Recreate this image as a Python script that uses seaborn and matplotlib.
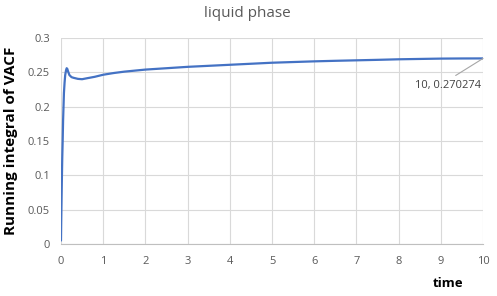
import matplotlib
matplotlib.use("Agg")
import matplotlib.pyplot as plt
import seaborn as sns
import pandas as pd

time = [0.0, 0.005, 0.01, 0.02, 0.03, 0.04, 0.05, 0.06, 0.07, 0.085, 0.1, 0.12, 0.135,
        0.15, 0.17, 0.2, 0.25, 0.3, 0.4, 0.5, 0.6, 0.8, 1.0, 1.25, 1.5, 1.75, 2.0,
        2.5, 3.0, 3.5, 4.0, 4.5, 5.0, 5.5, 6.0, 6.5, 7.0, 7.5, 8.0, 8.5, 9.0, 9.5, 10.0]
vacf_int = [0.005, 0.03, 0.05, 0.09, 0.125, 0.15, 0.18, 0.2, 0.22, 0.235, 0.246, 0.253, 0.256,
            0.255, 0.251, 0.246, 0.243, 0.242, 0.2405, 0.240, 0.2412, 0.2435, 0.2465, 0.249, 0.251, 0.2525, 0.254,
            0.256, 0.258, 0.2595, 0.2610, 0.2625, 0.2640, 0.2650, 0.2660, 0.2668, 0.2675, 0.2682, 0.2690, 0.2695, 0.2700, 0.2702, 0.270274]

df = pd.DataFrame({"time": time, "vacf": vacf_int})

sns.set_style("white")
plt.rcParams['font.family'] = ['Open Sans', 'DejaVu Sans']

fig = plt.figure(figsize=(4.97, 2.96), dpi=100)
ax = fig.add_axes([0.1227, 0.1757, 0.8493, 0.6959])
sns.lineplot(data=df, x="time", y="vacf", ax=ax, color="#4472C4", linewidth=1.6)

ax.set_xlim(0, 10)
ax.set_ylim(0, 0.3)
ax.set_xticks(range(0, 11))
ax.set_yticks([0, 0.05, 0.1, 0.15, 0.2, 0.25, 0.3])
ax.set_yticklabels(["0", "0.05", "0.1", "0.15", "0.2", "0.25", "0.3"])
ax.grid(True, color="#d9d9d9", linewidth=0.8)
ax.set_axisbelow(True)
for s in ["top", "right", "left"]:
    ax.spines[s].set_visible(False)
ax.spines["bottom"].set_color("#bfbfbf")
ax.tick_params(axis="both", length=0, labelsize=8, colors="#595959")
ax.tick_params(axis="x", pad=8.5)
ax.tick_params(axis="y", pad=8)

ax.set_xlabel("")
ax.set_ylabel("Running integral of VACF", fontsize=11, fontweight="bold", color="black", labelpad=7)
fig.text(0.902, 0.043, "time", fontsize=9.5, fontweight="bold", color="black", ha="center", va="center")
fig.text(0.498, 0.953, "liquid phase", fontsize=11, color="#595959", ha="center", va="center")

ax.annotate("10, 0.270274", xy=(10, 0.270274), xytext=(9.17, 0.2305),
            fontsize=8, color="#404040", ha="center", va="center",
            arrowprops=dict(arrowstyle="-", color="#a6a6a6", linewidth=0.8,
                            shrinkA=2, shrinkB=0, relpos=(0.5, 1.0)))

fig.savefig("out.png", dpi=100)
